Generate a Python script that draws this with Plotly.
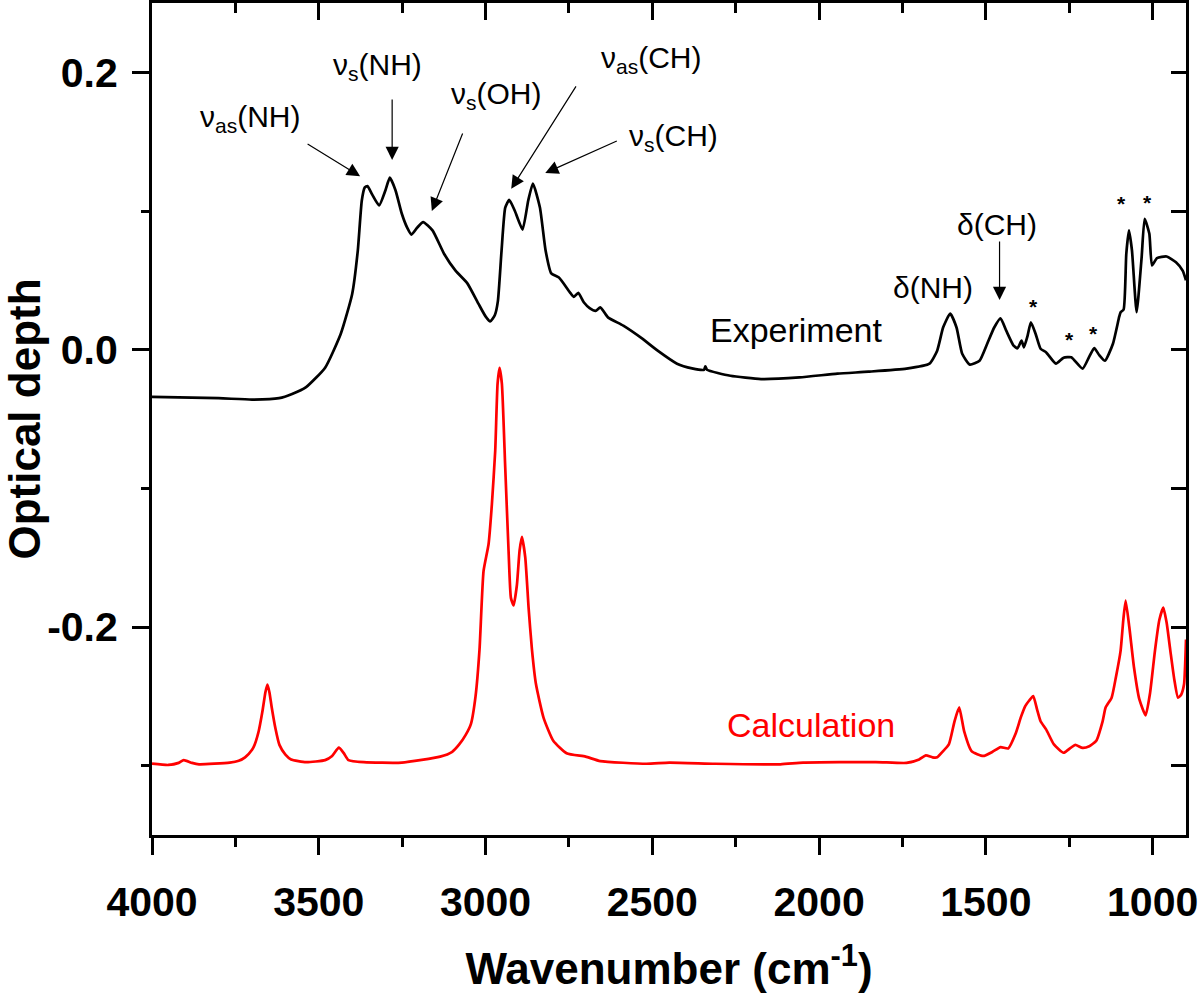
import plotly.graph_objects as go

# Experiment spectrum (wavenumber in cm-1, optical depth)
exp_wn = [4000, 3800, 3700, 3619, 3580, 3538, 3481, 3434, 3400, 3383, 3371, 3362, 3354, 3340,
          3319, 3300, 3287, 3270, 3251, 3235, 3222, 3205, 3187, 3159, 3124, 3090, 3055, 3021,
          3000, 2986, 2972, 2963, 2952, 2941, 2929, 2912, 2889, 2872, 2858, 2837, 2820, 2803,
          2780, 2746, 2735, 2722, 2705, 2688, 2670, 2656, 2633, 2587, 2530, 2484, 2426, 2381,
          2345, 2341, 2336, 2266, 2174, 2059, 1945, 1852, 1738, 1669, 1646, 1628, 1607, 1588,
          1571, 1548, 1519, 1496, 1475, 1456, 1439, 1417, 1405, 1393, 1386, 1375, 1365, 1351,
          1336, 1319, 1290, 1267, 1244, 1210, 1190, 1175, 1160, 1143, 1119, 1100, 1096, 1087,
          1079, 1071, 1062, 1048, 1033, 1024, 1010, 1002, 987, 958, 930, 910, 900]
exp_od = [-0.034, -0.035, -0.036, -0.035, -0.032, -0.027, -0.013, 0.0115, 0.040, 0.0715, 0.1076,
          0.117, 0.118, 0.112, 0.104, 0.115, 0.124, 0.115, 0.098, 0.088, 0.083, 0.088, 0.092,
          0.086, 0.069, 0.057, 0.048, 0.033, 0.024, 0.0204, 0.025, 0.035, 0.0715, 0.1025, 0.108,
          0.100, 0.0866, 0.1076, 0.1198, 0.1025, 0.0715, 0.055, 0.052, 0.041, 0.038, 0.041, 0.034,
          0.030, 0.028, 0.0305, 0.0233, 0.0173, 0.0079, -0.0007, -0.0101, -0.0135, -0.0145,
          -0.012, -0.0145, -0.0188, -0.0212, -0.020, -0.0173, -0.0159, -0.0137, -0.0101, -0.0007,
          0.0161, 0.026, 0.016, -0.003, -0.0108, -0.008, 0.0043, 0.016, 0.0226, 0.0137, 0.0029,
          0.001, 0.0065, 0.0017, 0.010, 0.0197, 0.0115, 0.0007, -0.002, -0.0101, -0.0058, -0.0055,
          -0.0137, -0.005, 0.0012, -0.004, -0.008, 0.0043, 0.024, 0.027, 0.029, 0.069, 0.086,
          0.0715, 0.027, 0.0666, 0.0944, 0.0837, 0.0607, 0.066, 0.0672, 0.063, 0.057, 0.050]

# Calculated spectrum
calc_wn = [4000, 3951, 3920, 3905, 3880, 3859, 3767, 3740, 3721, 3700, 3692, 3680, 3669, 3660,
           3654, 3648, 3641, 3630, 3618, 3600, 3583, 3538, 3481, 3460, 3440, 3425, 3411, 3365,
           3251, 3136, 3100, 3079, 3060, 3044, 3030, 3018, 3006, 2991, 2981, 2971, 2964, 2958,
           2951, 2941, 2931, 2924, 2916, 2906, 2898, 2891, 2881, 2871, 2861, 2849, 2826, 2797,
           2757, 2700, 2656, 2518, 2449, 2312, 2116, 2048, 1830, 1738, 1700, 1680, 1660, 1646,
           1630, 1611, 1594, 1580, 1565, 1543, 1508, 1480, 1456, 1433, 1411, 1395, 1382, 1370,
           1358, 1346, 1336, 1319, 1296, 1267, 1245, 1232, 1210, 1190, 1169, 1150, 1141, 1123,
           1110, 1096, 1088, 1081, 1070, 1056, 1040, 1021, 1008, 993, 980, 968, 958, 947, 935,
           924, 915, 906, 900]
calc_od = [-0.2985, -0.2995, -0.298, -0.296, -0.298, -0.299, -0.2978, -0.2965, -0.294, -0.2885,
           -0.2847, -0.275, -0.261, -0.247, -0.2415, -0.247, -0.258, -0.273, -0.285, -0.292,
           -0.2955, -0.2975, -0.296, -0.293, -0.287, -0.291, -0.296, -0.2975, -0.2978, -0.2935,
           -0.290, -0.2847, -0.278, -0.270, -0.250, -0.216, -0.1596, -0.1403, -0.1114, -0.0729,
           -0.0247, -0.0132, -0.0247, -0.085, -0.145, -0.179, -0.1845, -0.1697, -0.145, -0.1350,
           -0.1497, -0.186, -0.216, -0.241, -0.2655, -0.282, -0.291, -0.2935, -0.2967, -0.2986,
           -0.2978, -0.2986, -0.299, -0.2978, -0.2974, -0.298, -0.2955, -0.2926, -0.294, -0.294,
           -0.290, -0.2847, -0.268, -0.258, -0.2753, -0.2895, -0.293, -0.290, -0.2866, -0.2876,
           -0.277, -0.265, -0.257, -0.253, -0.2498, -0.260, -0.268, -0.274, -0.2847, -0.2907,
           -0.287, -0.285, -0.2872, -0.286, -0.282, -0.268, -0.258, -0.251, -0.236, -0.217,
           -0.195, -0.181, -0.200, -0.229, -0.252, -0.2637, -0.248, -0.217, -0.195, -0.186,
           -0.197, -0.217, -0.238, -0.251, -0.249, -0.2415, -0.209]

# axis ticks
x_ticks = [4000, 3500, 3000, 2500, 2000, 1500, 1000]
y_ticks = [0.2, 0.0, -0.2]
y_tick_text = ["0.2", "0.0", "-0.2"]

FONT = "Liberation Sans, Arial, sans-serif"

fig = go.Figure()
fig.add_trace(go.Scatter(x=exp_wn, y=exp_od, mode="lines", name="Experiment",
                         line=dict(color="black", width=2.7, shape="spline", smoothing=0.5)))
fig.add_trace(go.Scatter(x=calc_wn, y=calc_od, mode="lines", name="Calculation",
                         line=dict(color="#ff0000", width=2.7, shape="spline", smoothing=0.5)))
# empty trace so the mirrored top/right axes get drawn
fig.add_trace(go.Scatter(x=[], y=[], xaxis="x2", yaxis="y2", showlegend=False, hoverinfo="skip"))

# peak labels: (text, x, y, tail_x, tail_y, head_x, head_y)
labels = [
    ("ν<sub>as</sub>(NH)", 3706, 0.167, 3538, 0.149, 3376, 0.125),
    ("ν<sub>s</sub>(NH)", 3325, 0.204, 3280, 0.1815, 3280, 0.1368),
    ("ν<sub>s</sub>(OH)", 2968, 0.183, 3067, 0.157, 3161, 0.100),
    ("ν<sub>as</sub>(CH)", 2503, 0.209, 2726, 0.191, 2923, 0.116),
    ("ν<sub>s</sub>(CH)", 2437, 0.153, 2602, 0.151, 2821, 0.1274),
    ("δ(CH)", 1468, 0.090, 1459, 0.079, 1459, 0.0358),
]
for text, tx, ty, ax_, ay_, hx, hy in labels:
    fig.add_annotation(x=tx, y=ty, text=text, showarrow=False,
                       font=dict(family=FONT, size=30, color="black"))
    fig.add_annotation(x=hx, y=hy, ax=ax_, ay=ay_, axref="x", ayref="y", text="",
                       showarrow=True, arrowhead=2, arrowsize=2.2, arrowwidth=1.2,
                       arrowcolor="black")

fig.add_annotation(x=1660, y=0.0445, text="δ(NH)", showarrow=False,
                   font=dict(family=FONT, size=30, color="black"))
fig.add_annotation(x=2068, y=0.0142, text="Experiment", showarrow=False,
                   font=dict(family=FONT, size=34, color="black"))
fig.add_annotation(x=2023, y=-0.2707, text="Calculation", showarrow=False,
                   font=dict(family=FONT, size=34, color="#ff0000"))

star_x = [1358, 1249, 1177, 1094, 1015]
star_y = [0.0344, 0.0106, 0.0156, 0.109, 0.110]
for sx, sy in zip(star_x, star_y):
    fig.add_annotation(x=sx, y=sy, text="<b>*</b>", showarrow=False, yshift=-5,
                       font=dict(family=FONT, size=21, color="black"))

axis_common = dict(showline=True, linecolor="black", linewidth=3, showgrid=False,
                   zeroline=False, tickwidth=3, tickcolor="black", automargin=False)

fig.update_layout(
    width=1200, height=993,
    margin=dict(l=152, r=14, t=3, b=158),
    paper_bgcolor="white", plot_bgcolor="white",
    showlegend=False,
    font=dict(family=FONT, color="black"),
    xaxis=dict(range=[4000, 900], tickvals=x_ticks, ticks="outside", ticklen=17,
               minor=dict(dtick=250, tick0=0, ticks="outside", ticklen=9, tickwidth=3,
                          tickcolor="black"),
               tickfont=dict(family=FONT, size=41, weight="bold"), ticklabelstandoff=12,
               title=dict(text="Wavenumber (cm<sup>-1</sup>)", standoff=34,
                          font=dict(family=FONT, size=44, weight="bold")),
               **axis_common),
    yaxis=dict(range=[-0.35, 0.25], tickvals=y_ticks, ticktext=y_tick_text, ticks="outside",
               ticklen=17,
               minor=dict(dtick=0.1, tick0=0, ticks="outside", ticklen=8, tickwidth=3,
                          tickcolor="black"),
               tickfont=dict(family=FONT, size=41, weight="bold"), ticklabelstandoff=6,
               title=dict(text="Optical depth", standoff=18,
                          font=dict(family=FONT, size=44, weight="bold")),
               **axis_common),
    xaxis2=dict(overlaying="x", side="top", range=[4000, 900], dtick=500, tick0=0,
                ticks="inside", ticklen=17, showticklabels=False, anchor="y",
                minor=dict(dtick=250, ticks="inside", ticklen=10, tickwidth=3, tickcolor="black"),
                **axis_common),
    yaxis2=dict(overlaying="y", side="right", range=[-0.35, 0.25], dtick=0.1, tick0=0,
                ticks="inside", ticklen=15, showticklabels=False, anchor="x",
                **axis_common),
)

# drop the default 8px body margin so the figure fills the window exactly
fig.write_html("out.html", config={"displayModeBar": False},
               post_script="document.body.style.margin='0';")
